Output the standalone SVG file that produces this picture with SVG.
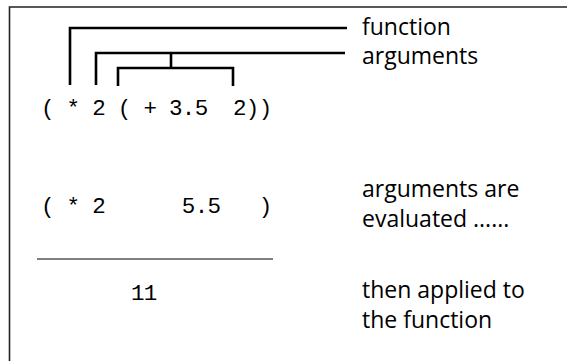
<svg xmlns="http://www.w3.org/2000/svg" width="567" height="361" viewBox="0 0 567 361">
<style>
.frame{fill:none;stroke:#222;stroke-width:1.6}
.br{fill:none;stroke:#000;stroke-width:2.6;stroke-linecap:butt;stroke-linejoin:miter}
.rule{stroke:#000;stroke-width:1.2}
.code{font-family:"Liberation Mono","Courier New",monospace;font-size:22.5px;letter-spacing:-0.7px;fill:#000;white-space:pre}
.lbl{font-family:"Open Sans","Noto Sans",sans-serif;font-size:23px;fill:#000}
</style>
<rect x="0" y="0" width="567" height="361" fill="#fff"/>
<path class="frame" d="M9.5,361 V7 H567"/>
<g id="connectors">
<path class="br" d="M70,85 V28 H347"/>
<path class="br" d="M96,85 V53 H345"/>
<path class="br" d="M171,53 V68"/>
<path class="br" d="M118,86 V68 H233 V86"/>
<line class="rule" x1="37" y1="259" x2="273" y2="259"/>
</g>
<g id="expr1"><text class="code" x="41" y="115" xml:space="preserve">( * 2 ( + 3.5  2))</text></g>
<g id="expr2"><text class="code" x="41" y="213" xml:space="preserve">( * 2      5.5   )</text></g>
<g id="result"><text class="code" x="131" y="300">11</text></g>
<g id="label-function"><text class="lbl" x="362" y="35">function</text></g>
<g id="label-arguments"><text class="lbl" x="362" y="64">arguments</text></g>
<g id="label-evaluated"><text class="lbl" x="362" y="197">arguments are</text><text class="lbl" x="362" y="227">evaluated ......</text></g>
<g id="label-applied"><text class="lbl" x="362" y="298">then applied to</text><text class="lbl" x="362" y="328">the function</text></g>
</svg>
